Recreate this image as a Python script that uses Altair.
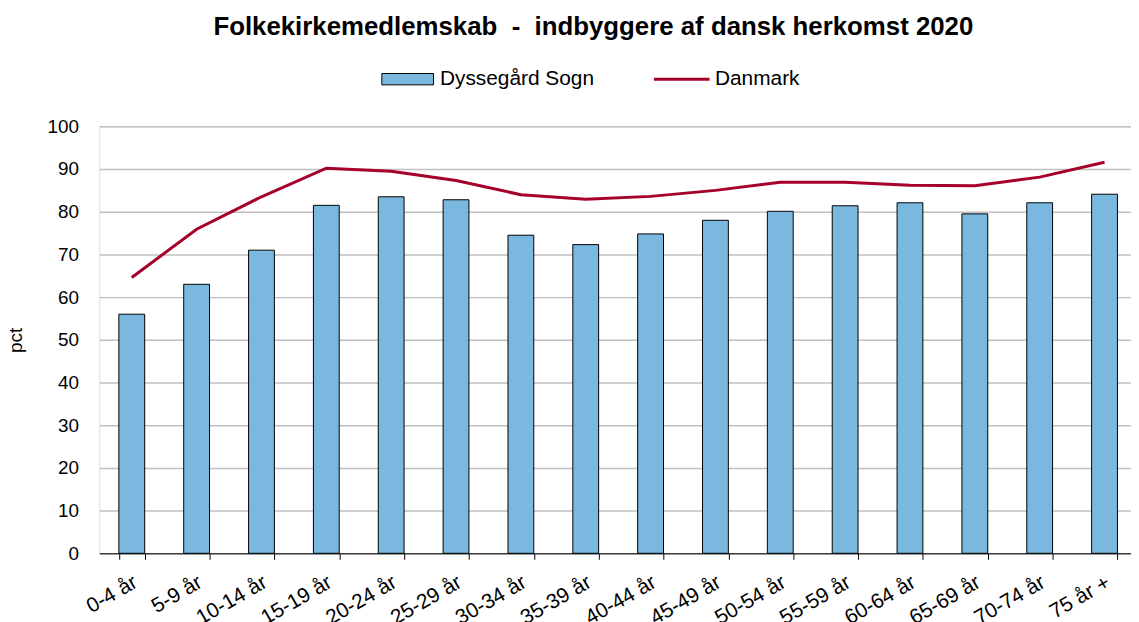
import altair as alt
import pandas as pd

categories = ["0-4 år", "5-9 år", "10-14 år", "15-19 år", "20-24 år", "25-29 år",
              "30-34 år", "35-39 år", "40-44 år", "45-49 år", "50-54 år", "55-59 år",
              "60-64 år", "65-69 år", "70-74 år", "75 år +"]
sogn = [56.0, 63.0, 71.0, 81.5, 83.5, 82.8, 74.5, 72.3, 74.8, 78.0, 80.1, 81.4,
        82.1, 79.5, 82.1, 84.1]
danmark = [64.6, 75.9, 83.5, 90.2, 89.5, 87.3, 84.0, 82.9, 83.6, 85.0, 86.9, 86.9,
           86.2, 86.1, 88.1, 91.6]
y_ticks = [0, 10, 20, 30, 40, 50, 60, 70, 80, 90, 100]
title_text = "Folkekirkemedlemskab \u00a0-\u00a0 indbyggere af dansk herkomst 2020"

FONT = "Liberation Sans"

df_bar = pd.DataFrame({"kat": categories, "pct": sogn, "serie": "Dyssegård Sogn"})
df_line = pd.DataFrame({"kat": categories, "pct": danmark, "serie": "Danmark"})

x_enc = alt.X("kat:N", sort=categories, title=None,
              scale=alt.Scale(range=[0, 1045], paddingInner=0.6, paddingOuter=0.3),
              axis=alt.Axis(labelAngle=-30, labelAlign="right", labelBaseline="top",
                            labelFontSize=21, labelFont=FONT, labelColor="black",
                            domainColor="black", domainWidth=1, tickColor="black",
                            tickSize=6, tickBand="extent", labelPadding=12,
                            labelOffset=-2, grid=False))
y_enc = alt.Y("pct:Q", title="pct",
              scale=alt.Scale(domain=[0, 100], nice=False),
              axis=alt.Axis(values=y_ticks, domain=False, ticks=False, tickSize=0,
                            labelPadding=21, labelFontSize=19, labelFont=FONT,
                            labelColor="black", gridColor="#c0c0c0", gridWidth=1.5,
                            titleFont=FONT, titleFontSize=19, titleFontWeight="normal",
                            titleColor="black", titlePadding=22))

bars = alt.Chart(df_bar).mark_bar(size=26, stroke="black", strokeWidth=1).encode(
    x=x_enc, y=y_enc,
    fill=alt.Fill("serie:N", scale=alt.Scale(domain=["Dyssegård Sogn"], range=["#7bb8e0"]),
                  legend=alt.Legend(orient="none", legendX=284, legendY=-74, title=None,
                                    symbolType="M-1,-0.22H1V0.22H-1Z", symbolSize=2704,
                                    symbolStrokeColor="black", symbolStrokeWidth=1,
                                    symbolOpacity=1, labelFont=FONT, labelFontSize=21,
                                    labelColor="black", labelOffset=6, padding=0))
)

line = alt.Chart(df_line).mark_line(strokeWidth=3).encode(
    x=x_enc, y=y_enc,
    stroke=alt.Stroke("serie:N", scale=alt.Scale(domain=["Danmark"], range=["#a6002a"]),
                      legend=alt.Legend(orient="none", legendX=557, legendY=-77, title=None,
                                        symbolType="stroke", symbolSize=3136,
                                        symbolStrokeWidth=3, labelFont=FONT,
                                        labelFontSize=21, labelColor="black",
                                        labelOffset=4, padding=0))
)

chart = alt.layer(bars, line).properties(
    width=1039, height=430,
    title=alt.TitleParams(title_text,
                          font=FONT, fontSize=26, fontWeight="bold", color="black",
                          anchor="middle", frame="group", dx=-22, offset=10),
    autosize=alt.AutoSizeParams(type="none"),
    padding={"left": 92, "top": 117, "right": 0, "bottom": 67},
).configure_view(stroke=None).configure(background="white")

chart.save("out.html", embed_options={"renderer": "svg", "actions": False})
